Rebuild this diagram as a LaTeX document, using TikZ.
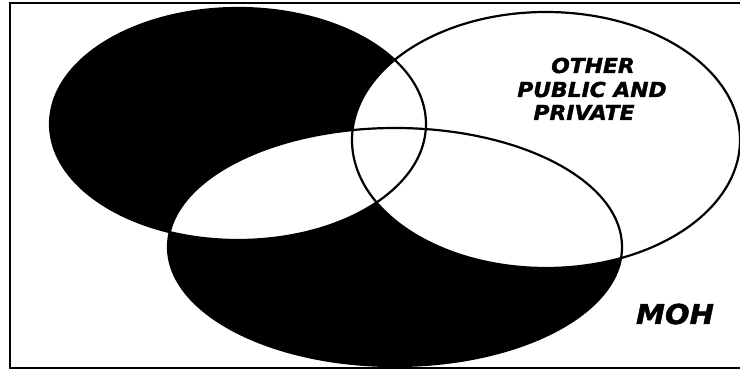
\documentclass[tikz,border=0pt]{standalone}
\usepackage{fontspec}
\newfontfamily\lblfont{DejaVu Sans}[FakeBold=1.6, FakeStretch=1.06]
\begin{document}
\begin{tikzpicture}[x=1pt,y=1pt,
  outline/.style={line width=2.2pt, draw=black},
  lbl/.style={font=\lblfont\bfseries\itshape\fontsize{20.6}{23.5}\selectfont, inner sep=0pt, anchor=base},
  biglbl/.style={font=\lblfont\bfseries\itshape\fontsize{27.4}{30}\selectfont, inner sep=0pt, anchor=base}]
\useasboundingbox (0,0) rectangle (740,372);
\fill[white] (0,0) rectangle (740,372);
% frame
\coordinate (fbr) at (742,4);
\coordinate (fbl) at (10,4);
\coordinate (ftl) at (10,369);
\coordinate (ftr) at (742,369);
\draw[line width=2.4pt] (fbr) -- (fbl) -- (ftl) -- (ftr);
% black regions: left and bottom ellipses, even-odd
\fill[black, even odd rule] (238,248) ellipse [x radius=188, y radius=116]
                            (395,125) ellipse [x radius=227, y radius=119];
% right ellipse, white
\fill[white] (546,232) ellipse [x radius=194, y radius=128];
% outlines
\draw[outline] (238,248) ellipse [x radius=188, y radius=116];
\draw[outline] (395,125) ellipse [x radius=227, y radius=119];
\draw[outline] (546,232) ellipse [x radius=194, y radius=128];
% labels
\node[lbl] (other) at (593,299) {OTHER};
\node[lbl] (public) at (592,275) {PUBLIC AND};
\node[lbl] (private) at (584,252) {PRIVATE};
\node[biglbl] (moh) at (675,48) {MOH};
\end{tikzpicture}
\end{document}
